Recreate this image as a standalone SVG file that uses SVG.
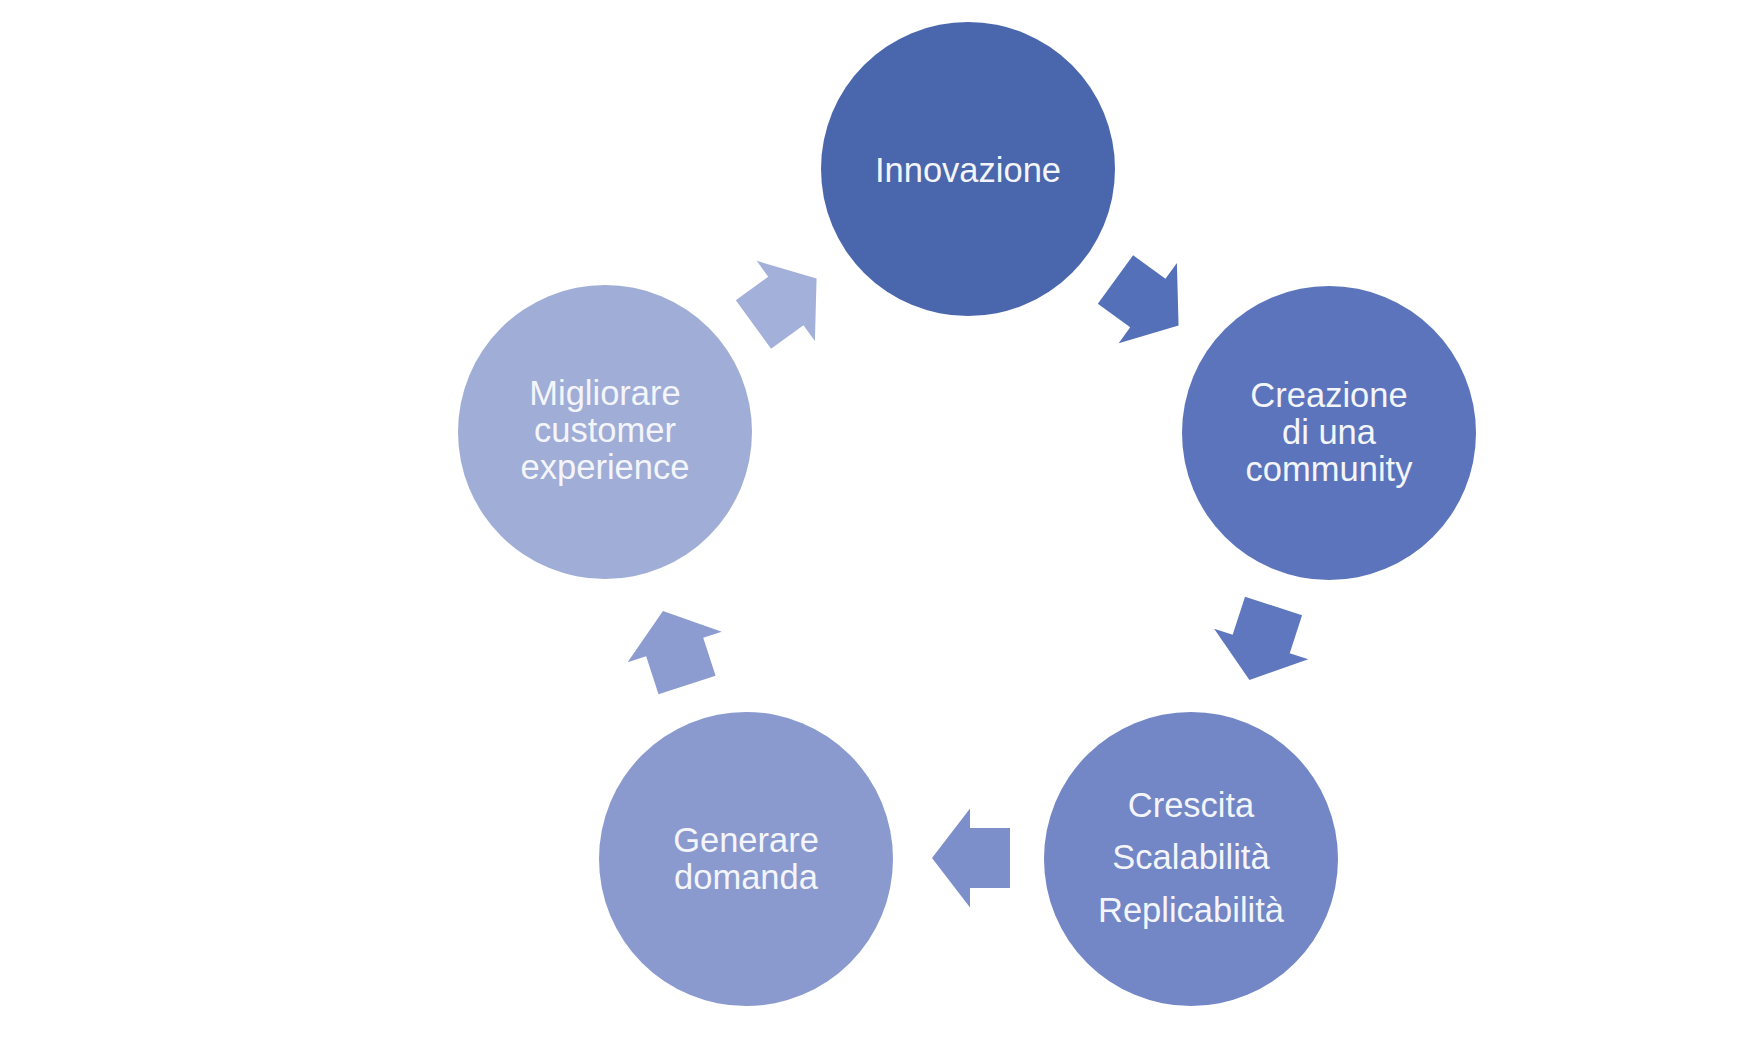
<svg xmlns="http://www.w3.org/2000/svg" width="1757" height="1047" viewBox="0 0 1757 1047">
  <style>
    .lbl { font-family: "Liberation Sans", Arial, sans-serif; font-size: 34.5px; fill: #F4F5FA; text-anchor: middle; }
  </style>
  <defs>
    <polygon id="arr" points="-39,-30 1,-30 1,-49.5 39,0 1,49.5 1,30 -39,30"/>
  </defs>
  <rect width="1757" height="1047" fill="#FFFFFF"/>
  <g id="connectors">
    <use href="#arr" fill="#5470B8" transform="translate(1147,302.5) rotate(36)"/>
    <use href="#arr" fill="#5F77BE" transform="translate(1261.5,643) rotate(108)"/>
    <use href="#arr" fill="#7D8FCA" transform="translate(971,858) rotate(180)"/>
    <use href="#arr" fill="#8C9CD0" transform="translate(675,648) rotate(-108)"/>
    <use href="#arr" fill="#A3B0D9" transform="translate(785,301.5) rotate(-36)"/>
  </g>
  <g id="node-innovazione">
    <circle cx="968" cy="169" r="147" fill="#4A66AC"/>
    <text class="lbl" x="968" y="182">Innovazione</text>
  </g>
  <g id="node-creazione">
    <circle cx="1329" cy="433" r="147" fill="#5B74BC"/>
    <text class="lbl" x="1329" y="407">Creazione</text>
    <text class="lbl" x="1329" y="444">di una</text>
    <text class="lbl" x="1329" y="481">community</text>
  </g>
  <g id="node-crescita">
    <circle cx="1191" cy="859" r="147" fill="#7386C6"/>
    <text class="lbl" x="1191" y="817">Crescita</text>
    <text class="lbl" x="1191" y="869">Scalabilità</text>
    <text class="lbl" x="1191" y="922">Replicabilità</text>
  </g>
  <g id="node-generare">
    <circle cx="746" cy="859" r="147" fill="#8A9ACE"/>
    <text class="lbl" x="746" y="852">Generare</text>
    <text class="lbl" x="746" y="889">domanda</text>
  </g>
  <g id="node-migliorare">
    <circle cx="605" cy="432" r="147" fill="#A0ADD6"/>
    <text class="lbl" x="605" y="405">Migliorare</text>
    <text class="lbl" x="605" y="442">customer</text>
    <text class="lbl" x="605" y="479">experience</text>
  </g>
</svg>
